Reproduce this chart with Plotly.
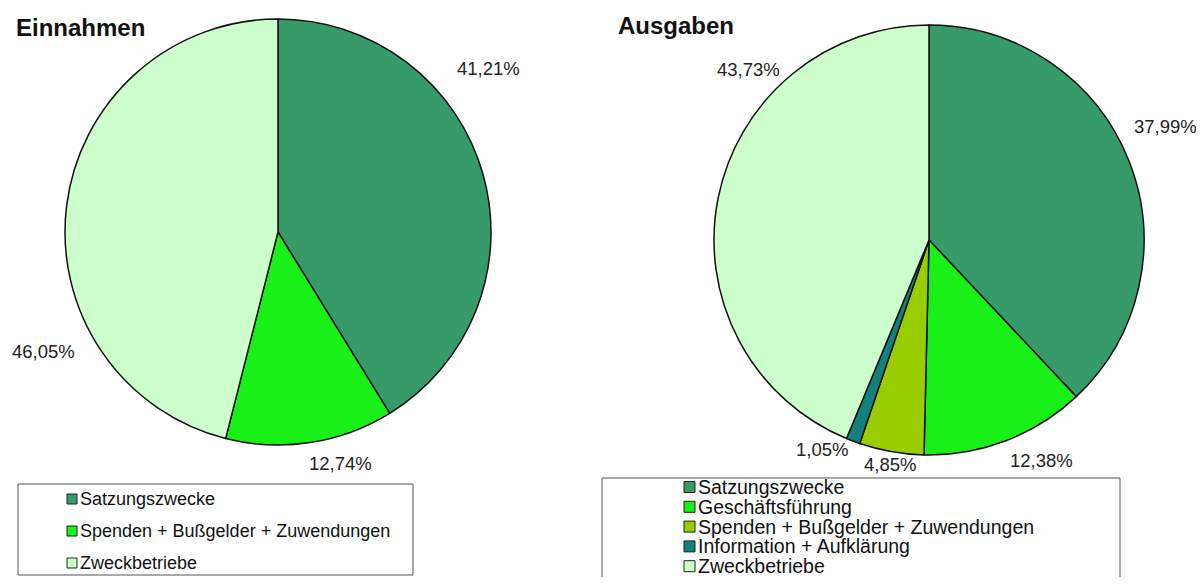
import plotly.graph_objects as go

# The page body has an 8px margin, so the figure is drawn 8px in from the window edges.
OFF = 8
W, H = 1204 - 2 * OFF, 585 - 2 * OFF

# ---- data ----
ein_labels = ["Satzungszwecke", "Spenden + Bußgelder + Zuwendungen", "Zweckbetriebe"]
ein_values = [41.21, 12.74, 46.05]
ein_colors = ["#379b69", "#18f018", "#ccffcc"]

aus_labels = ["Satzungszwecke", "Geschäftsführung", "Spenden + Bußgelder + Zuwendungen",
              "Information + Aufklärung", "Zweckbetriebe"]
aus_values = [37.99, 12.38, 4.85, 1.05, 43.73]
aus_colors = ["#379b69", "#18f018", "#9acd00", "#12807c", "#ccffcc"]

# label positions (window pixels) for the percentage labels
ein_label_pos = [(488, 68), (340, 463), (43, 351)]
aus_label_pos = [(1165, 127), (1041, 460), (890, 464), (822, 450), (748, 70)]


def px(x):
    return (x - OFF) / W


def py(y):
    return 1 - (y - OFF) / H


def fmt(v):
    return f"{v:.2f}".replace(".", ",") + "%"


fig = go.Figure()
fig.add_trace(go.Pie(
    labels=ein_labels, values=ein_values, sort=False, direction="clockwise",
    marker=dict(colors=ein_colors, line=dict(color="#111111", width=1.5)),
    textinfo="none", hoverinfo="label+percent", showlegend=False,
    domain=dict(x=[px(65), px(491)], y=[py(445), py(19)]),
))
fig.add_trace(go.Pie(
    labels=aus_labels, values=aus_values, sort=False, direction="clockwise",
    marker=dict(colors=aus_colors, line=dict(color="#111111", width=1.5)),
    textinfo="none", hoverinfo="label+percent", showlegend=False,
    domain=dict(x=[px(714), px(1144)], y=[py(455), py(25)]),
))

annotations = []
shapes = []
font = "Liberation Sans, Arial, sans-serif"

# titles
annotations.append(dict(text="<b>Einnahmen</b>", x=px(14), y=py(28), xref="paper", yref="paper",
                        xanchor="left", yanchor="middle", showarrow=False,
                        font=dict(family=font, size=24, color="#111111")))
annotations.append(dict(text="<b>Ausgaben</b>", x=px(616), y=py(25), xref="paper", yref="paper",
                        xanchor="left", yanchor="middle", showarrow=False,
                        font=dict(family=font, size=24, color="#111111")))

# percentage labels
for vals, poss in ((ein_values, ein_label_pos), (aus_values, aus_label_pos)):
    for v, (x, y) in zip(vals, poss):
        annotations.append(dict(text=fmt(v), x=px(x), y=py(y), xref="paper", yref="paper",
                                xanchor="center", yanchor="middle", showarrow=False,
                                font=dict(family=font, size=18.5, color="#222222")))


# legends (manual, boxed)
def legend(labels, colors, box, x0, y0, dy, sw, fsize):
    bx0, by0, bx1, by1 = box
    shapes.append(dict(type="rect", xref="paper", yref="paper",
                       x0=px(bx0), x1=px(bx1), y0=py(by1), y1=py(by0),
                       line=dict(color="#555555", width=1), fillcolor="white"))
    for i, (lab, col) in enumerate(zip(labels, colors)):
        yc = y0 + i * dy
        shapes.append(dict(type="rect", xref="paper", yref="paper",
                           x0=px(x0), x1=px(x0 + sw), y0=py(yc + sw / 2), y1=py(yc - sw / 2),
                           line=dict(color="#222222", width=1), fillcolor=col))
        annotations.append(dict(text=lab, x=px(x0 + sw + 1), y=py(yc), xref="paper", yref="paper",
                                xanchor="left", yanchor="middle", showarrow=False,
                                font=dict(family=font, size=fsize, color="#111111")))


legend(ein_labels, ein_colors, (18, 484, 413, 575), 67, 499, 32, 10, 18)
legend(aus_labels, aus_colors, (602, 478, 1120, 600), 684, 487, 19.8, 11, 19.5)

fig.update_layout(
    width=W, height=H, autosize=False,
    margin=dict(l=0, r=0, t=0, b=0),
    paper_bgcolor="white", plot_bgcolor="white",
    annotations=annotations, shapes=shapes,
)

fig.write_html("out.html")
